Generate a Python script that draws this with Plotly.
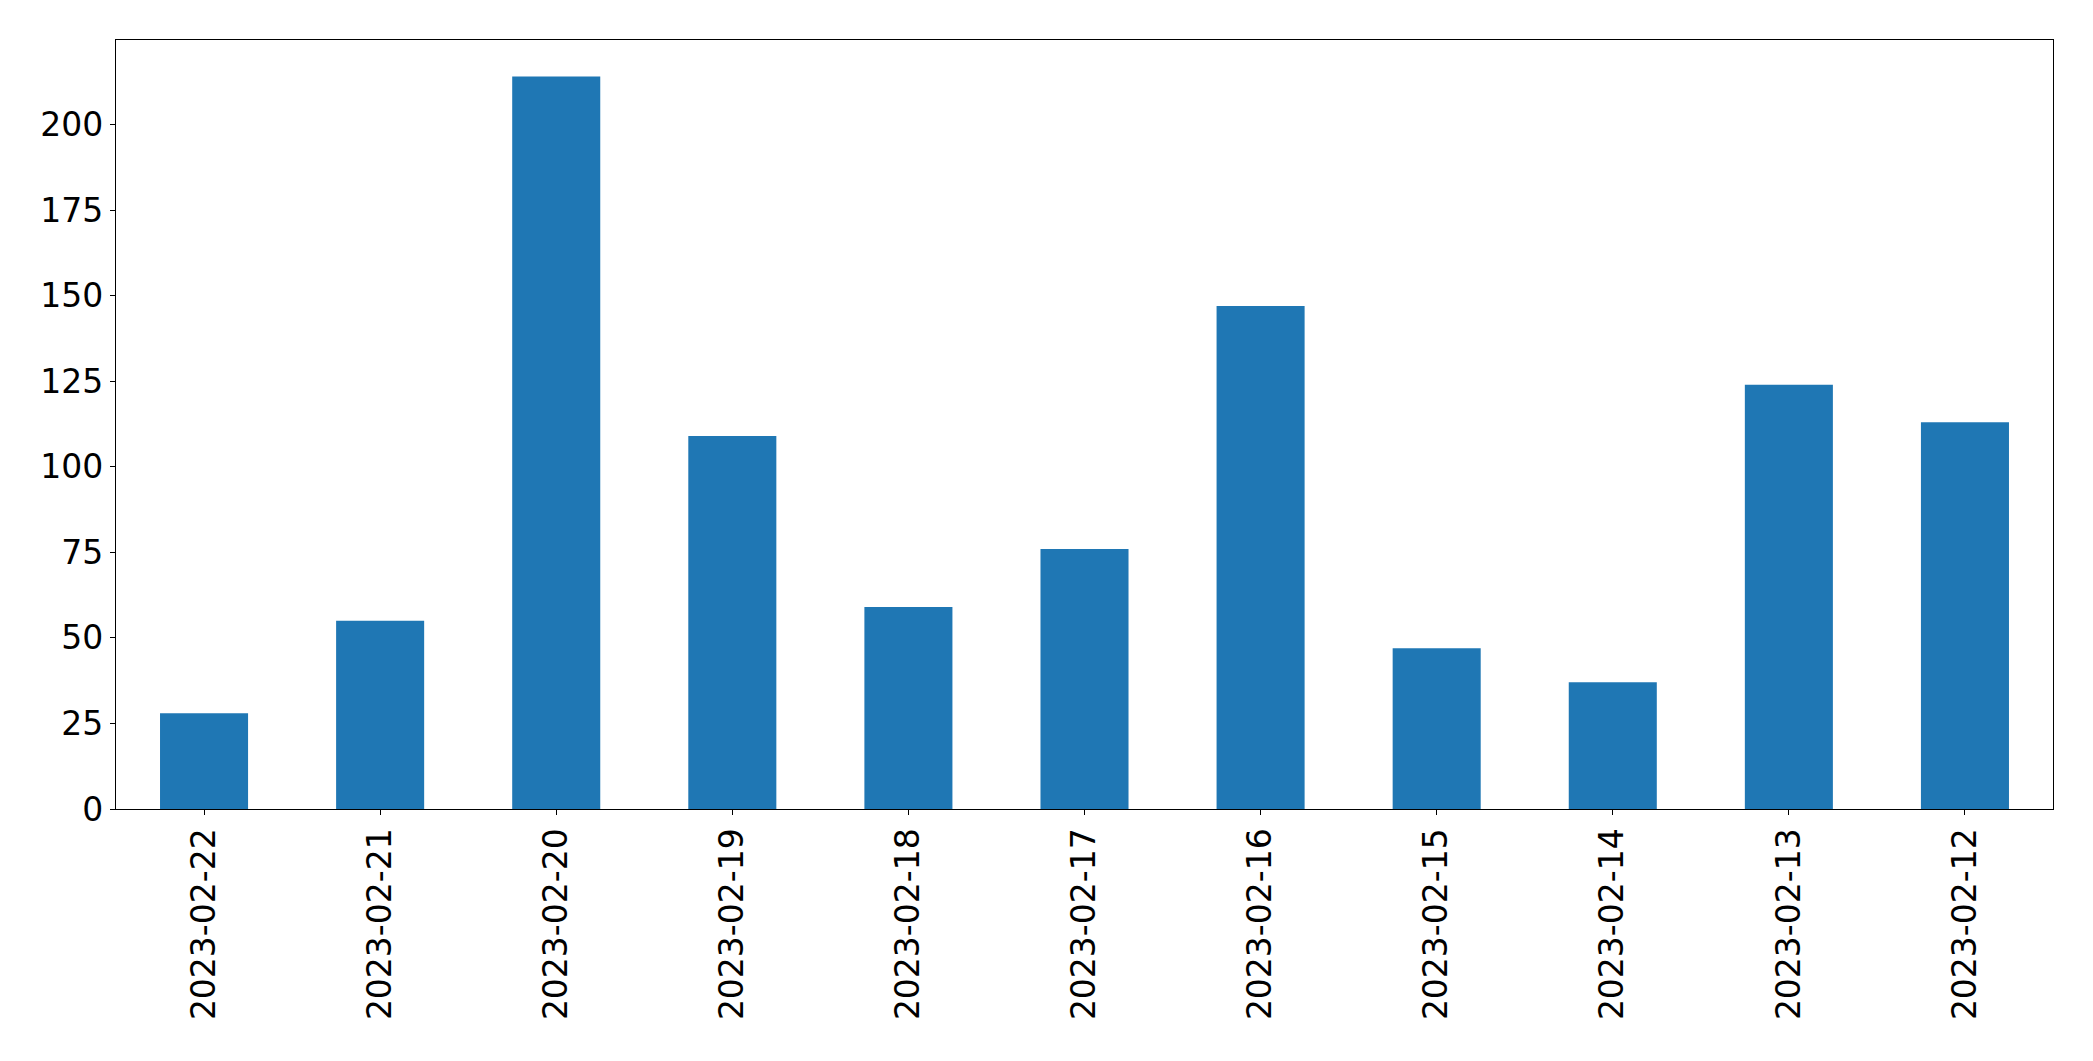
import plotly.graph_objects as go

dates = ["2023-02-22", "2023-02-21", "2023-02-20", "2023-02-19", "2023-02-18",
         "2023-02-17", "2023-02-16", "2023-02-15", "2023-02-14", "2023-02-13",
         "2023-02-12"]
counts = [28, 55, 214, 109, 59, 76, 147, 47, 37, 124, 113]
y_ticks = [0, 25, 50, 75, 100, 125, 150, 175, 200]

fig = go.Figure(go.Bar(x=dates, y=counts, marker_color="#1f77b4",
                       marker_line_width=0, width=0.5))

font = dict(family="DejaVu Sans", size=33, color="black")
fig.update_layout(
    width=2093, height=1061,
    margin=dict(l=108, r=48, t=32, b=260),
    paper_bgcolor="white", plot_bgcolor="white",
    showlegend=False,
    font=font,
    bargap=0.5,
)
fig.update_xaxes(type="category", range=[-0.5, len(dates) - 0.5],
                 tickangle=-90, showline=True, linecolor="black", linewidth=1.3,
                 mirror=True, ticks="outside", ticklen=5, tickcolor="black",
                 showgrid=False, zeroline=False, tickfont=font)
fig.update_yaxes(range=[0, max(counts) * 1.05], tickvals=y_ticks,
                 showline=True, linecolor="black", linewidth=1.3,
                 mirror=True, ticks="outside", ticklen=5, tickcolor="black",
                 showgrid=False, zeroline=False, tickfont=font)

fig.write_html("out.html")
